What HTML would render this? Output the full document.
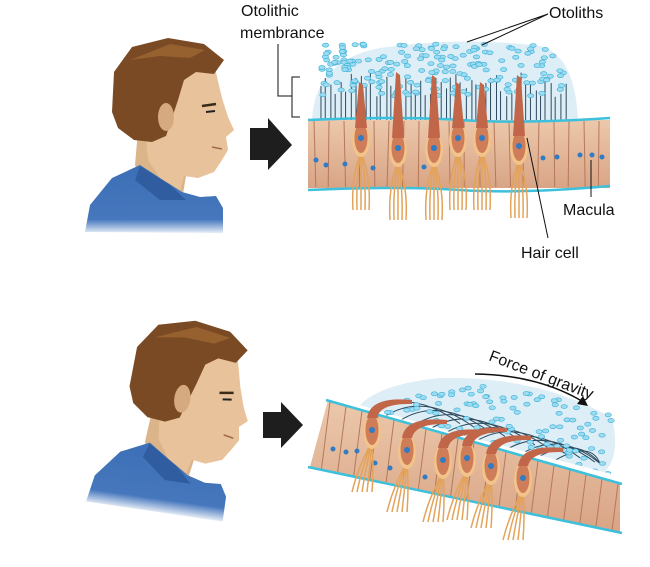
<!DOCTYPE html>
<html><head><meta charset="utf-8"><style>
html,body{margin:0;padding:0;background:#fff;width:650px;height:567px;overflow:hidden}
svg{display:block}
text{font-family:"Liberation Sans",Arial,sans-serif;fill:#111}
</style></head><body>
<svg id="s" width="650" height="567" viewBox="0 0 650 567" xmlns="http://www.w3.org/2000/svg">
<defs>
<linearGradient id="ep" x1="0" y1="0" x2="0" y2="1"><stop offset="0" stop-color="#ecc8ab"/><stop offset="1" stop-color="#d9a486"/></linearGradient>
<linearGradient id="sh" x1="0" y1="0" x2="0" y2="1"><stop offset="0" stop-color="#3c6fb6"/><stop offset=".8" stop-color="#4677bd"/><stop offset="1" stop-color="#e6edf6"/></linearGradient>
<clipPath id="bandB"><polygon points="328,400 620,483 620,532 310,467"/></clipPath>
<clipPath id="aboveB"><polygon points="300,300 650,300 650,484 328,400"/></clipPath>
<g id="head">
  <path d="M138,130 L175,150 L186,176 L182,200 L150,195 L135,165 Z" fill="#dcb48a"/>
  <path d="M85,232 L90,205 L112,178 L140,165 L160,178 L182,192 L200,197 L216,196 L223,208 L223,233 Z" fill="url(#sh)"/>
  <path d="M140,166 L170,185 L186,200 L160,200 L135,180 Z" fill="#2f5d9f"/>
  <path d="M142,95 L175,62 L214,64 L222,98 L228,117 L234,130 L226,137 L228,150 L222,160 L214,172 L198,178 L184,176 L180,190 L160,178 L148,160 Z" fill="#e8c29a"/>
  <path d="M112,112 L114,72 L132,47 L168,38 L204,44 L224,60 L214,74 L196,72 L184,80 L178,100 L172,118 L166,136 L152,142 L134,140 L118,128 Z" fill="#7a4a24"/>
  <path d="M130,60 L170,44 L205,50 L190,58 L160,56 Z" fill="#96602f"/>
  <ellipse cx="166" cy="117" rx="8" ry="14" fill="#d6aa80"/>
  <path d="M202,106 L216,104" stroke="#3a2a1a" stroke-width="2.5"/>
  <path d="M206,112 L215,111" stroke="#222" stroke-width="2"/>
  <path d="M212,147 L222,149" stroke="#a06a50" stroke-width="1.5"/>
</g>
</defs>
<use href="#head"/>
<g transform="translate(6,283) rotate(8 180 190)"><use href="#head"/></g>
<polygon points="250,128 268,128 268,118 292,145 268,170 268,160 250,160" fill="#1e1e1e"/>
<polygon points="263,412 281,412 281,402 303,425 281,448 281,438 263,438" fill="#1e1e1e"/>
<g id="top"></g>
<g id="bot"></g>
<text x="241" y="16" font-size="16">Otolithic</text>
<text x="240" y="38" font-size="16">membrance</text>
<path d="M278,44 L278,96 L292,96 M300,77 L292,77 L292,117 L300,117" stroke="#111" fill="none" stroke-width="1"/>
<text x="549" y="18" font-size="16">Otoliths</text>
<path d="M548,14 L467,42 M548,14 L482,45" stroke="#111" stroke-width="1"/>
<text x="563" y="215" font-size="16">Macula</text>
<path d="M591,160 L591,197" stroke="#111" stroke-width="1"/>
<text x="521" y="258" font-size="16">Hair cell</text>
<path d="M527,138 L548,238" stroke="#111" stroke-width="1"/>
<text x="0" y="0" font-size="16" transform="translate(488,360) rotate(21)">Force of gravity</text>
<path d="M475,374 Q540,375 585,403" stroke="#111" fill="none" stroke-width="1.5"/>
<polygon points="588,406 577,404 583,396" fill="#111"/>
</svg>
<script>
var NS="http://www.w3.org/2000/svg";
function el(p,t,a){var e=document.createElementNS(NS,t);for(var k in a)e.setAttribute(k,a[k]);p.appendChild(e);return e;}
var seed=7;function r(){seed=(seed*9301+49297)%233280;return seed/233280;}
var T=document.getElementById('top');
el(T,'path',{d:"M312,120 Q315,60 380,48 Q460,36 540,46 Q575,55 578,120 Z",fill:"#deeef6"});
for(var i=0;i<50;i++){var x=320+i*5+r()*2;el(T,'line',{x1:x,y1:120,x2:x,y2:72+r()*25,stroke:"#2d4a5e","stroke-width":1});}
for(var i=0;i<190;i++){var x=322+r()*248,y=44+r()*52;var top=64-22*Math.sin(Math.PI*(x-312)/266);if(y<top)continue;el(T,'ellipse',{cx:x,cy:y,rx:3.2,ry:2,fill:"#9ddcf0",stroke:"#3ab0d8","stroke-width":.6});}
el(T,'rect',{x:308,y:120,width:302,height:68,fill:"url(#ep)"});
for(var x=314;x<610;x+=15)el(T,'line',{x1:x,y1:121,x2:x+(r()-.5)*4,y2:187,stroke:"#b5785a","stroke-width":1});
el(T,'path',{d:"M308,120 Q400,116 460,120 T610,118",stroke:"#3cc0dc",fill:"none","stroke-width":2.5});
el(T,'path',{d:"M308,190 Q400,186 460,190 T610,186",stroke:"#3cc0dc",fill:"none","stroke-width":2.5});
[[360,140],[316,160],[326,165],[345,164],[373,168],[424,167],[580,155],[592,155],[602,157],[543,158],[557,157]].forEach(function(p){el(T,'circle',{cx:p[0],cy:p[1],r:2.5,fill:"#2f7bc4"});});
function hair(G,x,y0,y1){
 for(var k=-2;k<=2;k++)el(G,'path',{d:"M"+x+","+(y1-8)+" q"+(k*5)+",25 "+(k*4)+",58",stroke:"#e3a35a",fill:"none","stroke-width":1.5});
 el(G,'ellipse',{cx:x,cy:y1-20,rx:9,ry:17,fill:"#f2c38a"});
 el(G,'ellipse',{cx:x,cy:y1-22,rx:6.5,ry:15,fill:"#cf7d58"});
 el(G,'path',{d:"M"+(x-6)+","+(y1-32)+" L"+(x-2)+","+y0+" L"+(x+2)+","+(y0+3)+" L"+(x+6)+","+(y1-32)+" Z",fill:"#c2664a"});
 el(G,'circle',{cx:x,cy:y1-22,r:3,fill:"#2f7bc4"});
}
[[361,82,160],[398,72,170],[434,75,170],[458,82,160],[482,82,160],[519,75,168]].forEach(function(h){hair(T,h[0],h[1],h[2]);});
var B=document.getElementById('bot');
function ty(x){return 400+(x-328)*0.285;}
var A=el(B,'g',{"clip-path":"url(#aboveB)"});
el(A,'path',{d:"M360,405 Q380,384 440,378 Q540,376 612,418 Q622,460 600,476 L360,405 Z",fill:"#deeef6"});
for(var i=0;i<13;i++){var x=370+i*15;el(A,'path',{d:"M"+x+","+ty(x)+" Q"+(x+40)+","+(ty(x)-25)+" "+Math.min(x+90,600)+","+(ty(Math.min(x+90,600))-14),stroke:"#2d4a5e",fill:"none","stroke-width":1});}
for(var i=0;i<200;i++){var x=385+r()*228,y=380+r()*95;if(y>ty(x)-4)continue;var tp=386+Math.max(0,(440-x))*0.4+Math.max(0,x-520)*0.3;if(y<tp)continue;el(A,'ellipse',{cx:x,cy:y,rx:3.2,ry:2,fill:"#9ddcf0",stroke:"#3ab0d8","stroke-width":.6});}
el(B,'polygon',{points:"328,400 620,483 620,532 310,467",fill:"url(#ep)"});
var C=el(B,'g',{"clip-path":"url(#bandB)"});
for(var x=330;x<625;x+=16){el(C,'line',{x1:x,y1:ty(x)+1,x2:x-10,y2:ty(x)+80,stroke:"#b5785a","stroke-width":1});}
el(B,'line',{x1:326,y1:400,x2:622,y2:484,stroke:"#3cc0dc","stroke-width":2.5});
el(B,'line',{x1:308,y1:467,x2:622,y2:533,stroke:"#3cc0dc","stroke-width":2.5});
[[333,449],[346,452],[357,451],[375,463],[390,468],[425,477]].forEach(function(p){el(B,'circle',{cx:p[0],cy:p[1],r:2.5,fill:"#2f7bc4"});});
function bh(x,y){
 for(var k=-2;k<=2;k++)el(B,'path',{d:"M"+x+","+(y+10)+" q"+(k*4-6)+",25 "+(k*5-10)+",50",stroke:"#e3a35a",fill:"none","stroke-width":1.5});
 el(B,'ellipse',{cx:x,cy:y,rx:9,ry:17,fill:"#f2c38a"});
 el(B,'ellipse',{cx:x,cy:y-2,rx:6.5,ry:15,fill:"#cf7d58"});
 el(B,'path',{d:"M"+(x-5)+","+(y-14)+" Q"+(x-2)+","+(y-36)+" "+(x+40)+","+(y-32)+" L"+(x+40)+","+(y-28)+" Q"+(x+8)+","+(y-29)+" "+(x+5)+","+(y-14)+" Z",fill:"#c2664a"});
 el(B,'circle',{cx:x,cy:y-2,r:3,fill:"#2f7bc4"});
}
[[372,432],[407,452],[443,462],[467,460],[491,468],[523,480]].forEach(function(h){bh(h[0],h[1]);});
</script>
</body></html>
